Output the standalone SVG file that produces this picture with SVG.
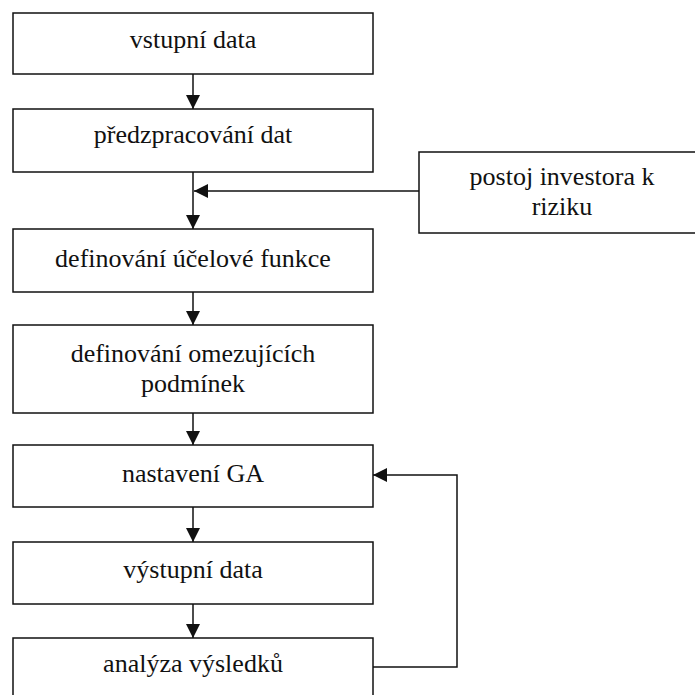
<svg xmlns="http://www.w3.org/2000/svg" width="695" height="695" viewBox="0 0 695 695">
<style>
.box{fill:#fff;stroke:#111;stroke-width:1.5}
.c{fill:none;stroke:#111;stroke-width:1.5}
</style>
<defs>
<marker id="ah" viewBox="0 0 14 14" refX="14" refY="7" markerWidth="14" markerHeight="14" markerUnits="userSpaceOnUse" orient="auto">
<path d="M0,0 L14,7 L0,14 Z" fill="#111"/>
</marker>
</defs>
<rect width="695" height="695" fill="#fff"/>
<g id="connectors">
<line class="c" x1="193" y1="74" x2="193" y2="109" marker-end="url(#ah)"/>
<line class="c" x1="193" y1="172" x2="193" y2="229" marker-end="url(#ah)"/>
<line class="c" x1="419" y1="191" x2="194" y2="191" marker-end="url(#ah)"/>
<line class="c" x1="193" y1="292" x2="193" y2="325" marker-end="url(#ah)"/>
<line class="c" x1="193" y1="413" x2="193" y2="445" marker-end="url(#ah)"/>
<line class="c" x1="193" y1="507" x2="193" y2="542" marker-end="url(#ah)"/>
<line class="c" x1="193" y1="604" x2="193" y2="638" marker-end="url(#ah)"/>
<polyline class="c" points="373,667 457,667 457,475 373,475" marker-end="url(#ah)"/>
</g>
<g font-family="Liberation Serif, Times New Roman, serif" font-size="26" fill="#111" text-anchor="middle">
<g id="n1"><rect class="box" x="13" y="13" width="360" height="61"/><text x="193" y="48">vstupní data</text></g>
<g id="n2"><rect class="box" x="13" y="109" width="360" height="63"/><text x="193" y="143">předzpracování dat</text></g>
<g id="n3"><rect class="box" x="419" y="152" width="286" height="81"/><text x="562" y="185">postoj investora k</text><text x="562" y="215">riziku</text></g>
<g id="n4"><rect class="box" x="13" y="229" width="360" height="63"/><text x="193" y="267">definování účelové funkce</text></g>
<g id="n5"><rect class="box" x="13" y="325" width="360" height="88"/><text x="193" y="362">definování omezujících</text><text x="193" y="392">podmínek</text></g>
<g id="n6"><rect class="box" x="13" y="445" width="360" height="62"/><text x="193" y="482">nastavení GA</text></g>
<g id="n7"><rect class="box" x="13" y="542" width="360" height="62"/><text x="193" y="578">výstupní data</text></g>
<g id="n8"><rect class="box" x="13" y="638" width="360" height="64"/><text x="193" y="672">analýza výsledků</text></g>
</g>
</svg>
